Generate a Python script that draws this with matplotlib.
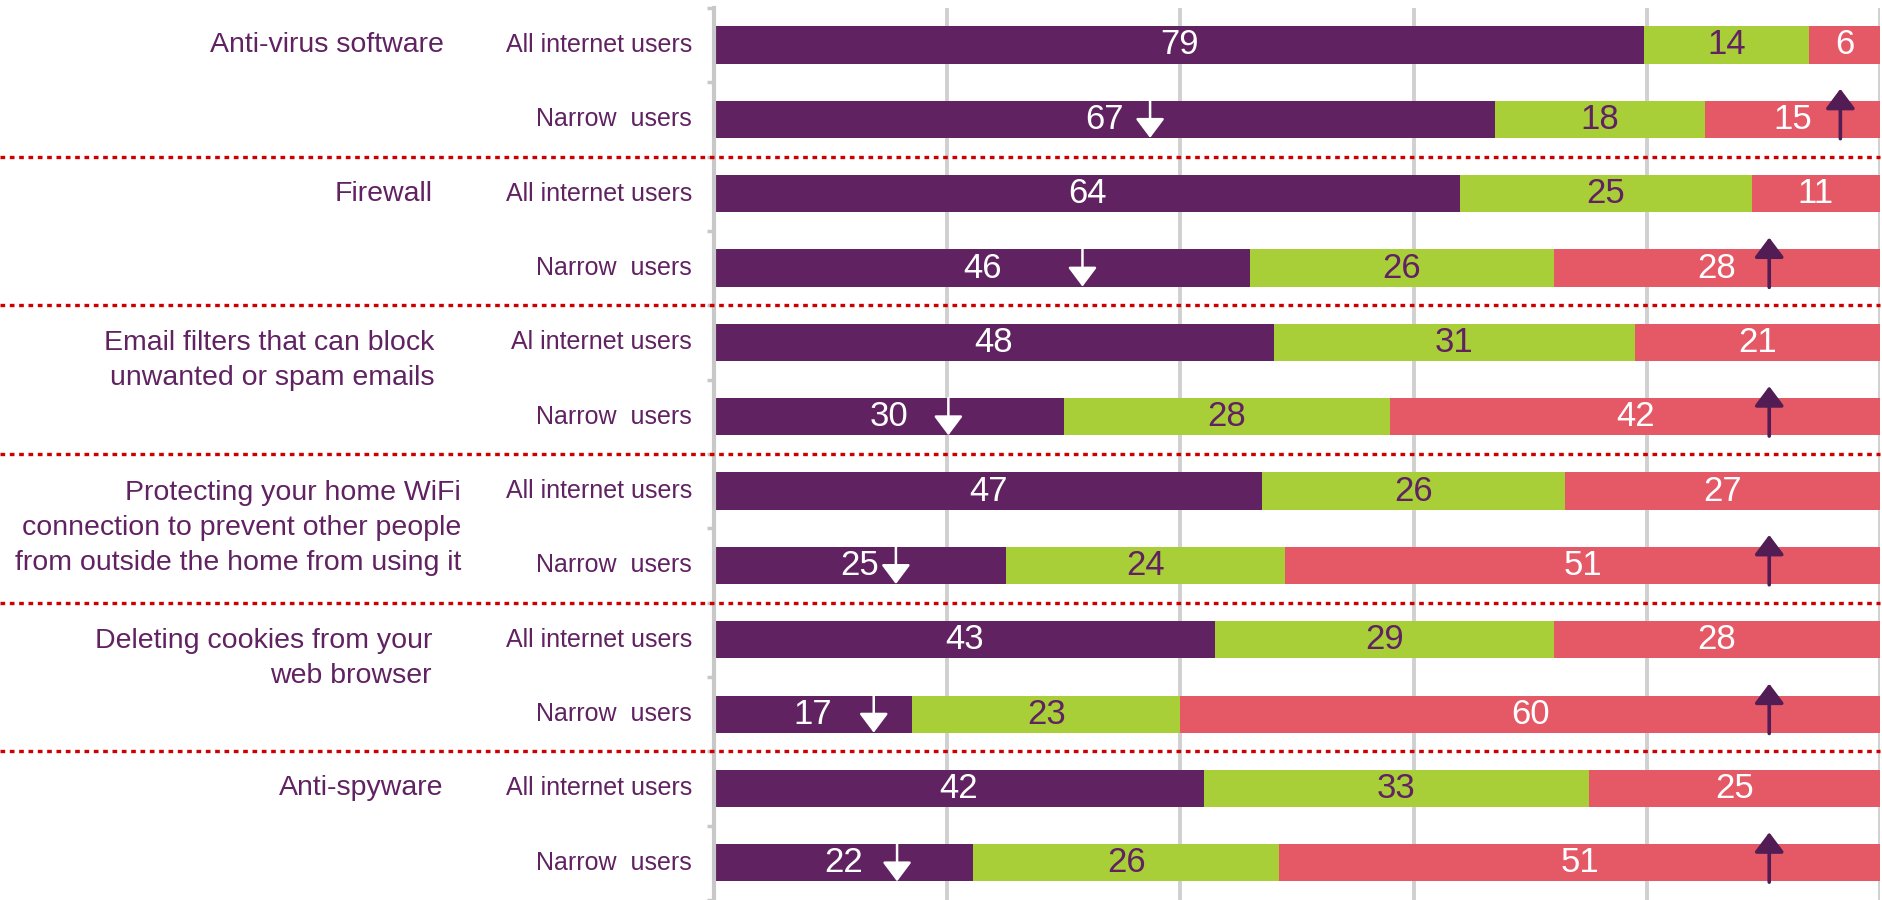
import numpy as np
import matplotlib
matplotlib.use("Agg")
import matplotlib.pyplot as plt

plt.rcParams['font.family'] = ['Liberation Sans', 'DejaVu Sans']

# categories (one per pair of rows) and row labels
categories = ["Anti-virus software",
              "Firewall",
              "Email filters that can block\nunwanted or spam emails",
              "Protecting your home WiFi\nconnection to prevent other people\nfrom outside the home from using it",
              "Deleting cookies from your\nweb browser",
              "Anti-spyware"]
row_labels = ["All internet users", "Narrow  users",
              "All internet users", "Narrow  users",
              "Al internet users", "Narrow  users",
              "All internet users", "Narrow  users",
              "All internet users", "Narrow  users",
              "All internet users", "Narrow  users"]

purple_vals = [79, 67, 64, 46, 48, 30, 47, 25, 43, 17, 42, 22]
green_vals = [14, 18, 25, 26, 31, 28, 26, 24, 29, 23, 33, 26]
red_vals = [6, 15, 11, 28, 21, 42, 27, 51, 28, 60, 25, 51]

# arrow markers on the "Narrow users" rows (x in % of bar)
down_arrow_x = [37.4, 31.6, 20.1, 15.6, 13.7, 15.7]
up_arrow_x = [96.6, 90.5, 90.5, 90.5, 90.5, 90.5]

# where the category labels end (figure pixels)
cat_label_right = [444, 433, 434, 461, 432, 443]

PURPLE = '#612262'
GREEN = '#a9cf38'
RED = '#e55866'
DARK = '#521c54'
GRID = '#d0d0d0'

W, H = 1882, 900
fig = plt.figure(figsize=(W / 100, H / 100), dpi=100)
ax_left = 714 / W
ax_right = 1880 / W
ax = fig.add_axes([ax_left, 0.0, ax_right - ax_left, 1 - 7.8 / H])

purple = np.array(purple_vals, dtype=float)
green = np.array(green_vals, dtype=float)
red = np.array(red_vals, dtype=float)
total = purple + green + red
p = purple / total * 100
g = green / total * 100
r = red / total * 100

y = np.arange(len(purple))
ax.barh(y, p, height=0.5, color=PURPLE, zorder=2)
ax.barh(y, g, left=p, height=0.5, color=GREEN, zorder=2)
ax.barh(y, r, left=p + g, height=0.5, color=RED, zorder=2)

for i in range(len(y)):
    ax.text(p[i] / 2, y[i], str(purple_vals[i]), ha='center', va='center',
            fontsize=25, color='white', zorder=4)
    ax.text(p[i] + g[i] / 2, y[i], str(green_vals[i]), ha='center', va='center',
            fontsize=25, color=PURPLE, zorder=4)
    ax.text(p[i] + g[i] + r[i] / 2, y[i], str(red_vals[i]), ha='center', va='center',
            fontsize=25, color='white', zorder=4)
    ax.text(-22 / 11.66, y[i], row_labels[i], ha='right', va='center',
            fontsize=18, color=PURPLE)

# arrows
for k in range(len(down_arrow_x)):
    row = 2 * k + 1
    ax.annotate('', xy=(down_arrow_x[k], row + 0.25), xytext=(down_arrow_x[k], row - 0.25),
                arrowprops=dict(arrowstyle='-|>,head_length=0.6,head_width=0.45',
                                color='white', lw=1.8, mutation_scale=20,
                                shrinkA=0, shrinkB=0), zorder=5)
    ax.annotate('', xy=(up_arrow_x[k], row - 0.41), xytext=(up_arrow_x[k], row + 0.26),
                arrowprops=dict(arrowstyle='-|>,head_length=0.6,head_width=0.45',
                                color=DARK, lw=2.6, mutation_scale=20,
                                shrinkA=0, shrinkB=0), zorder=5)

# category labels
for k, cat in enumerate(categories):
    n = cat.count('\n')
    xr = (cat_label_right[k] - 714) / 11.66
    ax.text(xr, 2 * k + n * 0.25, cat, ha='right', va='center', fontsize=20.5,
            color=PURPLE, linespacing=1.45, multialignment='right')

# dotted separators across whole figure
for k in range(1, len(categories)):
    ax.axhline(2 * k - 0.5, xmin=-ax_left / (ax_right - ax_left), xmax=1.0,
               color='#cc0000', lw=2.4, linestyle=(0, (1.4, 1.4)),
               clip_on=False, zorder=3)

ax.set_xlim(0, 100)
ax.set_ylim(11.5, -0.5)
ax.set_xticks([20, 40, 60, 80, 100])
ax.xaxis.grid(True, color=GRID, lw=2.8)
ax.set_axisbelow(True)
ax.tick_params(axis='x', length=0, labelbottom=False)
ax.set_yticks(np.arange(-0.5, 12, 1))
ax.set_yticklabels([])
ax.tick_params(axis='y', length=5, width=2.5, color='#c8c8c8')
for s in ['top', 'right', 'bottom']:
    ax.spines[s].set_visible(False)
ax.spines['left'].set_color('#c8c8c8')
ax.spines['left'].set_linewidth(3)

fig.savefig('out.png', dpi=100)
